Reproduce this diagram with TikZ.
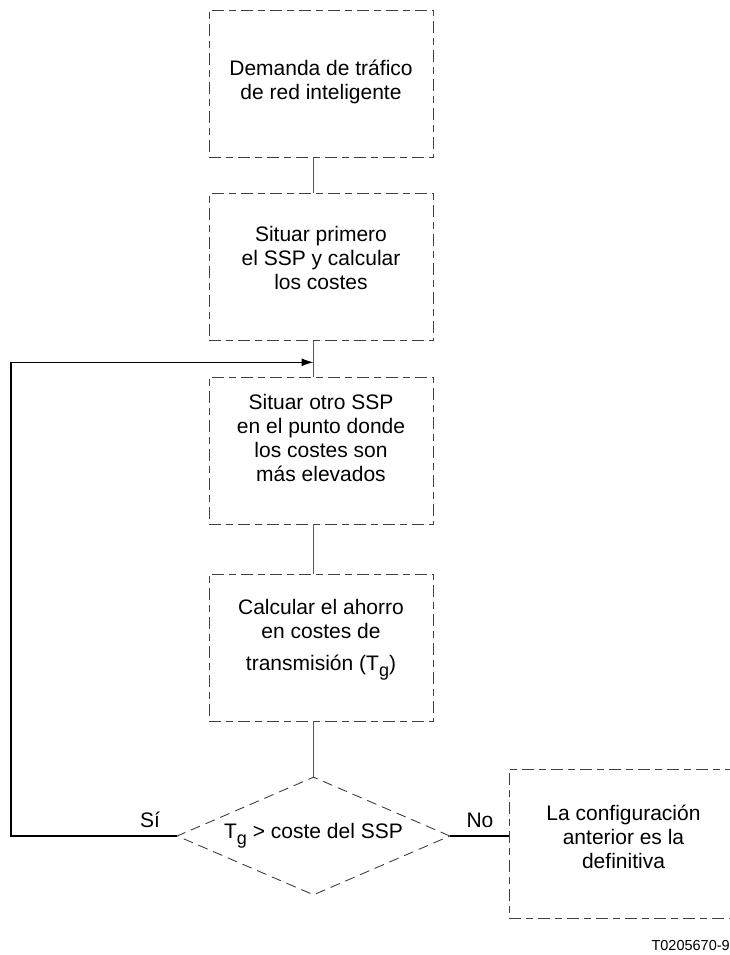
\documentclass[tikz,border=0pt]{standalone}
\usepackage{fontspec}
\setmainfont{Liberation Sans}
\usepackage{tikz}
\usetikzlibrary{calc, shapes.geometric, arrows.meta}

\newcommand{\tsub}[1]{\raisebox{-6pt}{\fontsize{18}{18}\selectfont #1}}

\tikzset{
	box/.style={draw=black!75, line width=0.9pt, dash pattern=on 12pt off 5pt on 7pt off 5pt, minimum width=224pt, minimum height=147pt, inner sep=0pt},
	boxtext/.style={align=center, font=\fontsize{21}{24}\selectfont},
	decision/.style={diamond, draw=black!75, line width=0.9pt, dash pattern=on 10pt off 6pt, aspect=2.3, inner sep=0pt, minimum width=273pt, minimum height=118pt, font=\fontsize{21}{24}\selectfont},
	link/.style={draw=black!65, line width=1.4pt},
	flow/.style={line width=1.1pt},
}

\begin{document}
\begin{tikzpicture}[x=1pt, y=-1pt]
					\def\xc{321};
					
					\useasboundingbox (0,0) rectangle (730,955);
					\clip (0,0) rectangle (730,955);
					
					\begin{scope}
						\node [box] (b1) at (\xc,83.5) {};
						\node [box] (b2) at (\xc,267) {};
						\node [box] (b3) at (\xc,450.5) {};
						\node [box] (b4) at (\xc,647.5) {};
						\node [decision] (dec) at (313.5,836) {T\tsub{g} > coste del SSP};
						\node [box, minimum width=228pt, minimum height=149pt] (b5) at (623,843.5) {};
						
						\node [boxtext] (t1) at (\xc,82) {Demanda de tráfico\\de red inteligente};
						\node [boxtext] (t2) at (\xc,258) {Situar primero\\el SSP y calcular\\los costes};
						\node [boxtext] (t3) at (\xc,438) {Situar otro SSP\\en el punto donde\\los costes son\\más elevados};
						\node [boxtext] (t4) at (\xc,640) {Calcular el ahorro\\en costes de\\[8pt]transmisión (T\tsub{g})};
						\node [boxtext] (t5) at (623.5,837) {La configuración\\anterior es la\\definitiva};
					\end{scope}
					
					\begin{scope}
						\draw [link] (b1.south -| dec) -- (b2.north -| dec);
						\draw [link] (b2.south -| dec) -- (b3.north -| dec);
						\draw [link] (b3.south -| dec) -- (b4.north -| dec);
						\draw [link] (b4.south -| dec) -- (dec.north);
						
						\coordinate (lft) at (11,0);
						\coordinate (join) at ($ (b2.south -| dec)!0.6!(b3.north -| dec) $);
						\draw [flow, -{Latex[length=12pt, width=8pt]}] (dec.west) -- (dec.west -| lft) |- (join);
						\draw [flow] (dec.east) -- (b5.west |- dec.east);
						
						\node [anchor=base, font=\fontsize{21}{24}\selectfont] (si) at (150,827) {Sí};
						\node [anchor=base, font=\fontsize{21}{24}\selectfont] (no) at (480,827) {No};
					\end{scope}
					
					\node [anchor=base west, font=\fontsize{14.5}{16}\selectfont] (fig) at (648,950) {T0205670-9};
				\end{tikzpicture}
\end{document}
